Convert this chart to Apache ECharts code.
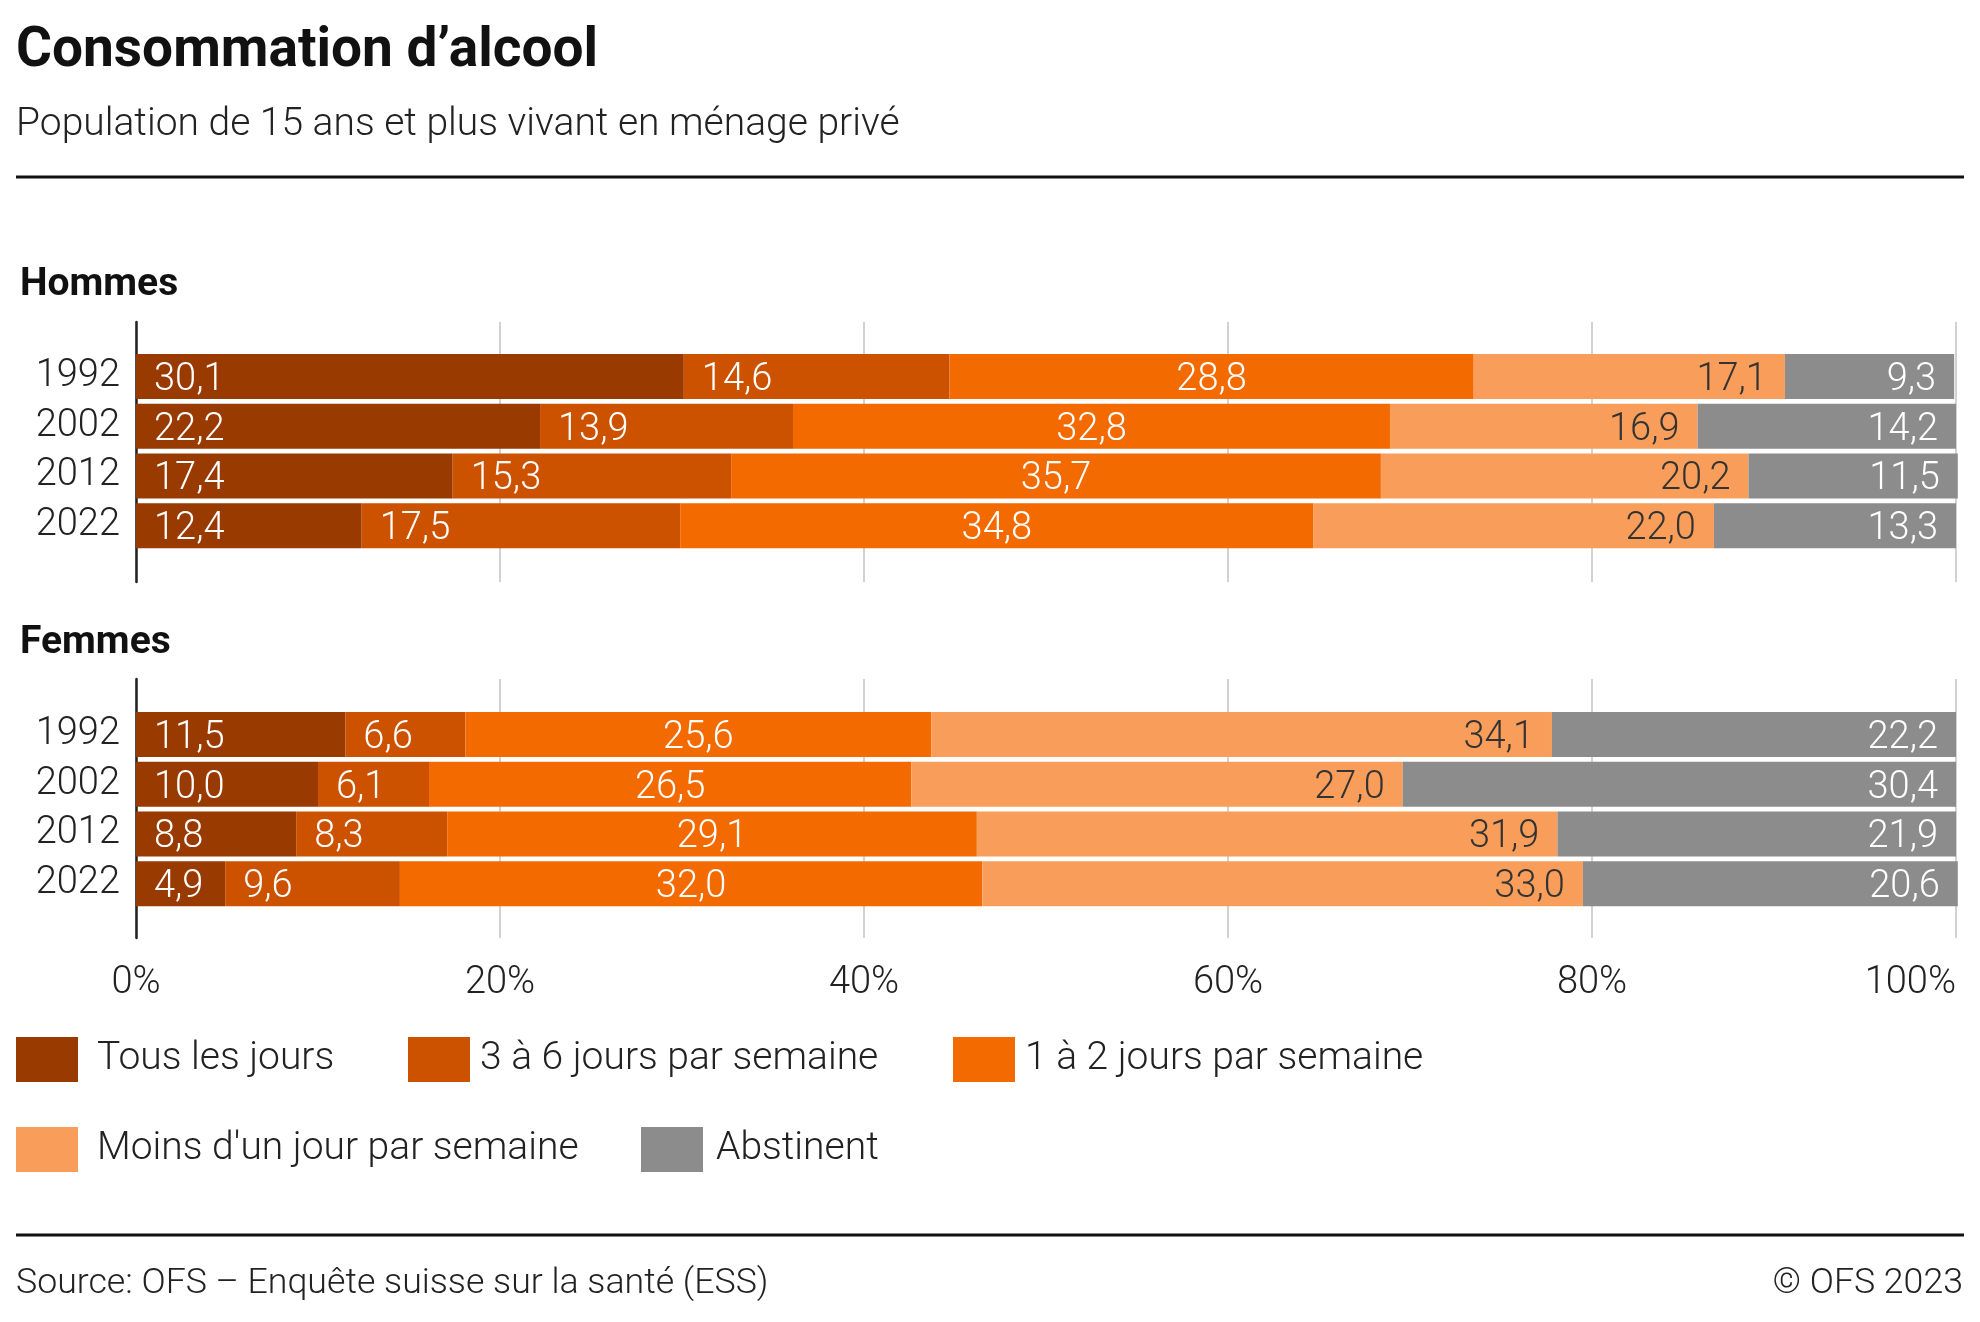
<!DOCTYPE html>
<html>
<head>
<meta charset="utf-8">
<script src="https://cdn.jsdelivr.net/npm/echarts@6/dist/echarts.min.js"></script>
<style>
html,body{margin:0;padding:0;background:#fff;}
#chart{width:1980px;height:1322px;}
</style>
</head>
<body>
<div id="chart"></div>
<script>
// ---- data ----
const years = ['1992', '2002', '2012', '2022'];
const seriesNames = ['Tous les jours', '3 à 6 jours par semaine', '1 à 2 jours par semaine', 'Moins d\'un jour par semaine', 'Abstinent'];
const hommesTous     = [30.1, 22.2, 17.4, 12.4];
const hommes3a6      = [14.6, 13.9, 15.3, 17.5];
const hommes1a2      = [28.8, 32.8, 35.7, 34.8];
const hommesMoins    = [17.1, 16.9, 20.2, 22.0];
const hommesAbst     = [9.3, 14.2, 11.5, 13.3];
const femmesTous     = [11.5, 10.0, 8.8, 4.9];
const femmes3a6      = [6.6, 6.1, 8.3, 9.6];
const femmes1a2      = [25.6, 26.5, 29.1, 32.0];
const femmesMoins    = [34.1, 27.0, 31.9, 33.0];
const femmesAbst     = [22.2, 30.4, 21.9, 20.6];
const xTicks = [0, 20, 40, 60, 80, 100];

// ---- styles ----
const colors = ['#993a00', '#cc5200', '#f26a00', '#f89e5a', '#8c8c8c'];
const labelPos = ['insideLeft', 'insideLeft', 'inside', 'insideRight', 'insideRight'];
const labelColor = ['#fff', '#fff', '#fff', '#333', '#fff'];
const FONT = 'Roboto';

const hommes = [hommesTous, hommes3a6, hommes1a2, hommesMoins, hommesAbst];
const femmes = [femmesTous, femmes3a6, femmes1a2, femmesMoins, femmesAbst];

const fmt = v => Number(v).toFixed(1).replace('.', ',');

function decoX(gridIndex, showLabels) {
  return {
    type: 'value', gridIndex, min: xTicks[0], max: xTicks[xTicks.length - 1], interval: xTicks[1] - xTicks[0],
    axisLine: {show: false}, axisTick: {show: false},
    splitLine: {show: true, lineStyle: {color: '#d2d2d2', width: 2}},
    axisLabel: {
      show: showLabels, formatter: '{value}%', margin: 26,
      fontFamily: FONT, fontWeight: 300, fontSize: 38, color: '#222',
      alignMaxLabel: 'right'
    }
  };
}
function barX(gridIndex) {
  return {
    type: 'value', gridIndex, min: 0, max: 100, interval: 20,
    axisLine: {show: false}, axisTick: {show: false},
    splitLine: {show: false}, axisLabel: {show: false}
  };
}
function decoY(gridIndex) {
  return {
    type: 'value', gridIndex, min: 0, max: 1,
    axisLine: {show: true, onZero: false, lineStyle: {color: '#222', width: 2.5}},
    axisTick: {show: false}, splitLine: {show: false}, axisLabel: {show: false}
  };
}
function barY(gridIndex) {
  return {
    type: 'category', gridIndex, data: years, inverse: true,
    axisLine: {show: false}, axisTick: {show: false},
    axisLabel: {margin: 16, fontFamily: FONT, fontWeight: 300, fontSize: 38, color: '#222'}
  };
}

const series = [];
[[hommes, 1, 'h'], [femmes, 3, 'f']].forEach(([group, idx, stack]) => {
  group.forEach((arr, i) => {
    series.push({
      type: 'bar', name: seriesNames[i], stack,
      xAxisIndex: idx, yAxisIndex: idx,
      data: arr, barWidth: 45, clip: false,
      itemStyle: {color: colors[i]},
      label: {
        show: true, position: labelPos[i], distance: 18,
        formatter: p => fmt(p.value),
        fontFamily: FONT, fontWeight: 300, fontSize: 38, color: labelColor[i],
        offset: [0, 4]
      },
      emphasis: {disabled: true}
    });
  });
});

function legend(name, left, top, gap) {
  return {
    data: [name], left, top, orient: 'horizontal', padding: 0,
    icon: 'rect', itemWidth: 62, itemHeight: 45,
    textStyle: {fontFamily: FONT, fontWeight: 300, fontSize: 39, color: '#222', padding: [12, 0, 0, gap]},
    selectedMode: false
  };
}

const option = {
  backgroundColor: '#fff',
  animation: false,
  color: colors,
  title: [
    {text: 'Consommation d\u2019alcool', left: 16, top: 25, padding: 0,
     textStyle: {fontFamily: FONT, fontWeight: 'bold', fontSize: 55, color: '#111'}},
    {text: 'Population de 15 ans et plus vivant en ménage privé', left: 16, top: 106, padding: 0,
     textStyle: {fontFamily: FONT, fontWeight: 300, fontSize: 39, color: '#222'}},
    {text: 'Hommes', left: 20, top: 266, padding: 0,
     textStyle: {fontFamily: FONT, fontWeight: 'bold', fontSize: 39, color: '#111'}},
    {text: 'Femmes', left: 20, top: 624, padding: 0,
     textStyle: {fontFamily: FONT, fontWeight: 'bold', fontSize: 39, color: '#111'}},
    {text: 'Source: OFS \u2013 Enquête suisse sur la santé (ESS)', left: 16, top: 1266, padding: 0,
     textStyle: {fontFamily: FONT, fontWeight: 300, fontSize: 35.7, color: '#222'}},
    {text: '\u00a9 OFS 2023', right: 17, top: 1266, padding: 0,
     textStyle: {fontFamily: FONT, fontWeight: 300, fontSize: 35.7, color: '#222'}}
  ],
  legend: [
    legend(seriesNames[0], 16, 1037, 14),
    legend(seriesNames[1], 408, 1037, 5),
    legend(seriesNames[2], 953, 1037, 5),
    legend(seriesNames[3], 16, 1127, 14),
    legend(seriesNames[4], 641, 1127, 8)
  ],
  grid: [
    {left: 136, width: 1820, top: 322, height: 260},
    {left: 136, width: 1820, top: 351.5, height: 199},
    {left: 136, width: 1820, top: 679, height: 259},
    {left: 136, width: 1820, top: 709.5, height: 199}
  ],
  xAxis: [decoX(0, false), barX(1), decoX(2, true), barX(3)],
  yAxis: [decoY(0), barY(1), decoY(2), barY(3)],
  series,
  graphic: [
    {type: 'line', shape: {x1: 16, y1: 177, x2: 1964, y2: 177}, style: {stroke: '#111', lineWidth: 3}},
    {type: 'line', shape: {x1: 16, y1: 1235, x2: 1964, y2: 1235}, style: {stroke: '#111', lineWidth: 3}}
  ]
};

const chart = echarts.init(document.getElementById('chart'), null, {renderer: 'canvas'});
chart.setOption(option);
</script>
</body>
</html>
